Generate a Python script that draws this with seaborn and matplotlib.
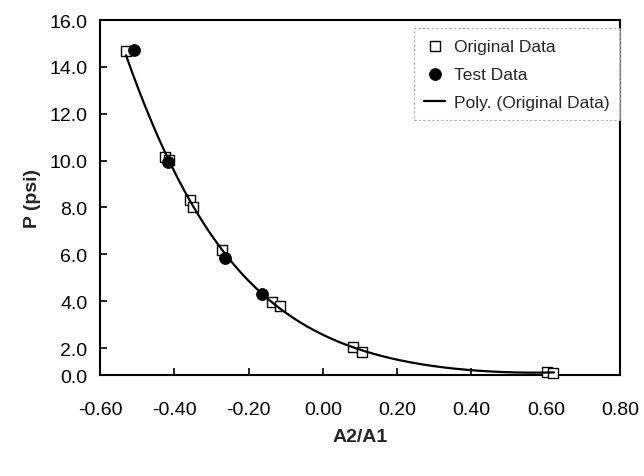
import numpy as np
import pandas as pd
import matplotlib
matplotlib.use("Agg")
import matplotlib.pyplot as plt
import seaborn as sns

# Original data (open squares)
orig_x = [-0.530, -0.425, -0.415, -0.358, -0.350, -0.272, -0.137, -0.116, 0.082, 0.106, 0.604, 0.620]
orig_y = [14.68, 10.15, 10.02, 8.32, 8.02, 6.18, 3.96, 3.79, 2.05, 1.85, 0.98, 0.94]
# Test data (filled circles)
test_x = [-0.509, -0.417, -0.264, -0.164]
test_y = [14.72, 9.94, 5.84, 4.31]

xticks = [-0.60, -0.40, -0.20, 0.00, 0.20, 0.40, 0.60, 0.80]
ytick_labels = ["0.0", "2.0", "4.0", "6.0", "8.0", "10.0", "12.0", "14.0", "16.0"]
y_bottom = 0.85   # axis bottom as drawn in the reference (labelled 0.0)
y_top = 16.0

sns.set_theme(style="ticks")
plt.rcParams['font.family'] = ['Liberation Sans', 'DejaVu Sans']

fig = plt.figure(figsize=(6.44, 4.77), dpi=100)
ax = fig.add_axes([0.1553, 0.2117, 0.8075, 0.7442])

# smooth trendline fitted to the original data (cubic in log space)
coef = np.polyfit(orig_x, np.log(orig_y), 3)
cx = np.linspace(-0.530, 0.622, 200)
curve = pd.DataFrame({"x": cx, "y": np.exp(np.polyval(coef, cx))})

df_o = pd.DataFrame({"x": orig_x, "y": orig_y})
df_t = pd.DataFrame({"x": test_x, "y": test_y})

sns.scatterplot(data=df_o, x="x", y="y", ax=ax, marker="s", s=55,
                facecolor="white", edgecolor="black", linewidth=1.0,
                label="Original Data", zorder=3, clip_on=False)
sns.scatterplot(data=df_t, x="x", y="y", ax=ax, marker="o", s=75,
                color="black", edgecolor="black", linewidth=0.5,
                label="Test Data", zorder=4)
sns.lineplot(data=curve, x="x", y="y", ax=ax, color="black", linewidth=1.6,
             label="Poly. (Original Data)", zorder=5)

ax.set_xlim(-0.6, 0.8)
ax.set_ylim(y_bottom, y_top)
ax.set_xticks(xticks)
ax.set_xticklabels([f"{v:.2f}" for v in xticks])
yt = [y_bottom] + [2.0 * i for i in range(1, 9)]
ax.set_yticks(yt)
ax.set_yticklabels(ytick_labels)
ax.tick_params(direction="in", length=5, width=1.2, labelsize=14, colors="black")
ax.tick_params(axis="x", pad=19)
ax.tick_params(axis="y", pad=9)
for s in ax.spines.values():
    s.set_visible(True)
    s.set_linewidth(1.5)
    s.set_color("black")

ax.set_xlabel("A2/A1", fontsize=14, fontweight="bold", labelpad=7)
ax.set_ylabel("P (psi)", fontsize=14, fontweight="bold", labelpad=6)

leg = ax.legend(loc="upper right", bbox_to_anchor=(1.0, 1.0 - 8.0 / 355.0),
                fontsize=12.5, frameon=True, fancybox=False,
                borderpad=0.6, handlelength=1.2, handletextpad=0.5,
                labelspacing=0.75, borderaxespad=0.0)
leg.get_frame().set_edgecolor("#999999")
leg.get_frame().set_linewidth(0.8)
leg.get_frame().set_linestyle((0, (2, 2)))

fig.savefig("out.png", dpi=100)
